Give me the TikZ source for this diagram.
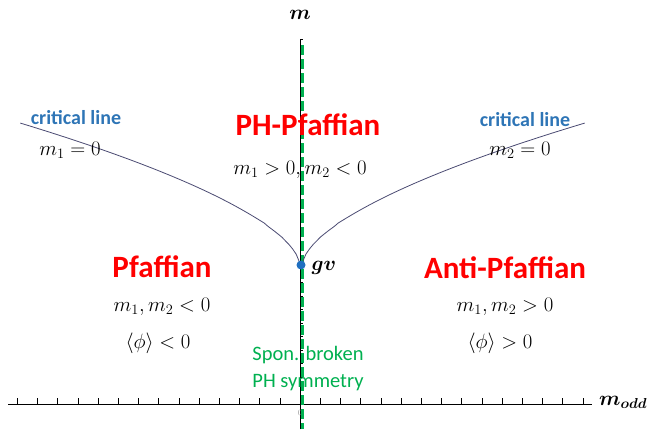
\documentclass[tikz,border=0pt]{standalone}
\usepackage{fontspec}
\usepackage{amsmath}
\usepackage{bm}
\usetikzlibrary{positioning}
\newfontfamily\calib{Carlito}
\definecolor{phred}{HTML}{FF0000}
\definecolor{critblue}{HTML}{2E75B6}
\definecolor{phgreen}{HTML}{00B050}
\definecolor{curveink}{HTML}{4A4A72}
\definecolor{dotblue}{HTML}{1F6FC0}
\definecolor{ticklabel}{HTML}{9A9A9A}
\tikzset{
  phase/.style={text=phred, font=\calib\bfseries\fontsize{31}{36}\selectfont},
  crit/.style={text=critblue, font=\calib\bfseries\fontsize{20}{24}\selectfont},
  cond/.style={font=\fontsize{20.5}{24}\selectfont},
  broken/.style={text=phgreen, font=\calib\fontsize{20.5}{24}\selectfont},
  axislabel/.style={font=\fontsize{20}{24}\selectfont},
}

\begin{document}
\begin{tikzpicture}[x=1pt, y=-1pt]
  \useasboundingbox (0,0) rectangle (650,429);
  % axes and ticks
  \draw[line width=0.9pt] (8,404) coordinate (xl) -- (592,404) coordinate (xr);
  \foreach \k in {-14,...,14}
    \draw[line width=0.6pt] ({300+20.2*\k},404) -- ++(0,-6);
  \draw[line width=0.9pt] (300,429) coordinate (yb) -- (300,40) coordinate (yt);
  \foreach \k in {1,...,27}
    \draw[line width=0.5pt] (300,{404-13.5*\k}) -- ++(3,0);
  \node[text=ticklabel, font=\footnotesize] (zero) at (300,413) {0};
  \node[axislabel] (maxis) at (300,15) {$\bm{m}$};
  \node[axislabel, anchor=west, inner sep=1pt] (moddaxis) at (598,402) {$\bm{m_{odd}}$};
  % symmetric line
  \draw[phgreen, line width=3pt, dash pattern=on 10pt off 4pt]
    (302.5,45) -- (302.5,429);
  % critical lines
  \coordinate (gv) at (301,265);
  \draw[curveink, line width=0.8pt]
    plot[domain=0.001:1, samples=80] ({300-280*\x}, {265-142*pow(\x,0.6)});
  \draw[curveink, line width=0.8pt]
    plot[domain=0.001:1, samples=80] ({302+283*\x}, {265-142*pow(\x,0.6)});
  \fill[dotblue] (gv) circle (4.5);
  \node[anchor=west] (gvlabel) at (308,268) {\fontsize{21}{25}\selectfont$\bm{gv}$};
  % labels
  \node[crit] (critl) at (76,118) {critical line};
  \node[cond] (mone) at (70,150) {$m_1 = 0$};
  \node[crit] (critr) at (525,120) {critical line};
  \node[cond] (mtwo) at (520,150) {$m_2 = 0$};
  \node[phase] (php) at (308,125) {PH-Pfaffian};
  \node[cond] (phpcond) at (300,170) {$m_1 > 0, m_2 < 0$};
  \node[phase] (pf) at (162,267) {Pfaffian};
  \node[cond] (pfcond) at (162,307) {$m_1, m_2 < 0$};
  \node[cond] (pfphi) at (158,343) {$\langle\phi\rangle < 0$};
  \node[phase] (apf) at (505,268) {Anti-Pfaffian};
  \node[cond] (apfcond) at (505,307) {$m_1, m_2 > 0$};
  \node[cond] (apfphi) at (500,343) {$\langle\phi\rangle > 0$};
  \node[broken] (spon) at (308,355) {Spon. broken};
  \node[broken] (phsym) at (308,383) {PH symmetry};
\end{tikzpicture}
\end{document}
